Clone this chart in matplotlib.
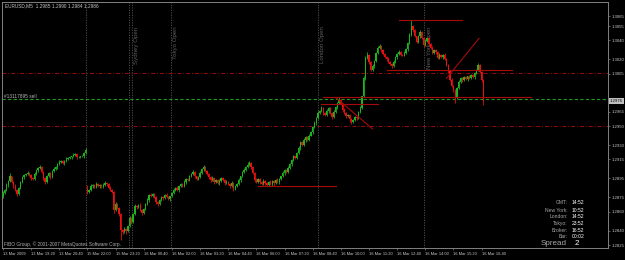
import matplotlib
matplotlib.use("Agg")
import matplotlib.pyplot as plt
import matplotlib.transforms as mtransforms

plt.rcParams['font.family'] = ['Liberation Sans', 'DejaVu Sans']

# EURUSD M5 candles, values in pips above 1.2800 (one entry per bar)
base = 1.2800
first_open = 76
gap_open = 85      # first Sunday bar (index 48) opens after the weekend gap
gap_bar = 48

closes = [
    80, 83, 88, 92, 97, 91, 87, 83, 79, 85,
    91, 96, 99, 100, 101, 99, 95, 94, 100, 104,
    106, 107, 102, 95, 91, 97, 101, 96, 103, 105,
    107, 110, 112, 113, 111, 113, 115, 116, 117, 118,
    120, 121, 117, 117, 118, 118, 122, 125,
    81, 83, 87, 88, 86, 89, 87, 88, 86, 88,
    90, 89, 85, 83, 81, 62, 68, 64, 58, 41,
    39, 42, 40, 45, 53, 49, 58, 66, 65, 67,
    62, 59, 63, 68, 72, 78, 76, 79, 75, 70,
    68, 72, 75, 74, 78, 75, 73, 76, 80, 83,
    85, 83, 87, 89, 87, 91, 94, 93, 97, 100,
    102, 97, 94, 96, 101, 105, 107, 103, 100, 96,
    93, 95, 91, 93, 90, 92, 95, 93, 90, 91,
    89, 87, 90, 84, 87, 89, 93, 97, 102, 104,
    107, 109, 111, 107, 101, 93, 91, 94, 91, 89,
    92, 90, 88, 91, 89, 92, 90, 93, 91, 94,
    97, 101, 104, 102, 106, 110, 114, 118, 116, 122,
    127, 133, 130, 135, 138, 135, 140, 144, 149, 153,
    158, 164, 166, 169, 164, 162, 166, 169, 164, 159,
    165, 170, 174, 177, 173, 167, 164, 160, 162, 157,
    154, 156, 159, 158, 165, 169, 181, 200, 221, 225,
    217, 209, 213, 218, 227, 232, 234, 230, 226, 222,
    220, 217, 215, 213, 217, 222, 226, 228, 225, 224,
    227, 231, 237, 246, 255, 251, 244, 238, 244, 249,
    242, 235, 239, 242, 236, 232, 227, 230, 228, 221,
    225, 222, 225, 220, 214, 208, 198, 192, 188, 180,
    190, 196, 200, 198, 201, 199, 202, 200, 204, 201,
    206, 209, 214, 207, 198, 176,
]

# how far the high / low reach beyond the body, in pips
wick_up = [
    2, 1, 2, 1, 4, 1, 1, 2, 1, 1,
    1, 2, 1, 1, 2, 1, 1, 1, 2, 1,
    1, 2, 1, 1, 1, 2, 1, 1, 1, 2,
    1, 1, 2, 1, 1, 1, 2, 1, 1, 1,
    2, 1, 1, 1, 1, 2, 1, 2,
    3, 1, 2, 1, 1, 2, 1, 1, 1, 2,
    2, 1, 1, 2, 1, 1, 2, 1, 1, 1,
    1, 2, 1, 1, 2, 1, 1, 2, 1, 1,
    2, 1, 1, 1, 2, 1, 2, 1, 1, 1,
    1, 1, 2, 1, 1, 2, 1, 1, 1, 2,
    1, 2, 1, 1, 1, 2, 1, 1, 2, 1,
    2, 1, 1, 1, 2, 1, 2, 1, 1, 1,
    1, 2, 1, 1, 1, 2, 1, 1, 1, 2,
    1, 1, 2, 1, 1, 1, 2, 1, 1, 2,
    1, 3, 2, 1, 1, 1, 2, 1, 1, 1,
    2, 1, 1, 1, 2, 1, 1, 1, 2, 1,
    1, 2, 1, 1, 2, 1, 1, 2, 1, 1,
    2, 1, 1, 2, 1, 1, 2, 1, 1, 2,
    1, 2, 1, 2, 1, 1, 2, 1, 1, 1,
    2, 1, 1, 3, 1, 1, 2, 1, 1, 1,
    1, 1, 2, 1, 1, 2, 1, 2, 2, 3,
    1, 1, 2, 1, 1, 2, 2, 1, 1, 1,
    1, 2, 1, 1, 2, 1, 1, 2, 1, 1,
    2, 1, 1, 2, 6, 1, 1, 1, 2, 2,
    1, 1, 2, 1, 1, 1, 2, 1, 1, 1,
    2, 1, 1, 2, 1, 1, 1, 2, 1, 1,
    1, 2, 1, 1, 2, 1, 1, 2, 1, 1,
    1, 1, 2, 1, 1, 1,
]
wick_dn = [
    2, 1, 1, 2, 1, 1, 2, 1, 2, 1,
    1, 1, 2, 1, 1, 1, 2, 1, 1, 1,
    2, 1, 1, 2, 2, 1, 1, 2, 1, 1,
    1, 2, 1, 1, 1, 2, 1, 1, 1, 2,
    1, 1, 2, 1, 1, 1, 2, 1,
    2, 1, 1, 2, 1, 1, 1, 2, 1, 1,
    1, 2, 1, 1, 1, 3, 1, 1, 2, 11,
    2, 1, 3, 1, 1, 2, 1, 1, 2, 1,
    1, 2, 1, 1, 1, 2, 1, 1, 1, 2,
    2, 1, 1, 2, 1, 1, 1, 2, 1, 1,
    1, 1, 2, 1, 1, 1, 2, 1, 1, 1,
    1, 2, 1, 1, 1, 1, 2, 1, 1, 2,
    2, 1, 2, 1, 1, 2, 1, 1, 2, 1,
    1, 2, 1, 2, 1, 1, 1, 2, 1, 1,
    1, 1, 1, 2, 1, 2, 1, 1, 2, 1,
    1, 2, 1, 1, 1, 2, 3, 1, 1, 2,
    1, 1, 2, 1, 1, 1, 2, 1, 1, 1,
    1, 2, 1, 1, 2, 1, 1, 1, 2, 1,
    2, 1, 1, 1, 2, 1, 1, 2, 1, 2,
    1, 1, 2, 1, 1, 2, 1, 2, 1, 3,
    2, 1, 1, 2, 1, 1, 1, 1, 2, 1,
    2, 1, 1, 2, 1, 1, 1, 2, 1, 1,
    2, 1, 1, 2, 1, 1, 2, 1, 1, 1,
    1, 1, 2, 1, 1, 2, 1, 1, 1, 2,
    1, 2, 1, 1, 2, 1, 1, 1, 2, 1,
    1, 1, 2, 1, 1, 2, 1, 1, 2, 6,
    2, 1, 1, 2, 1, 1, 2, 1, 1, 1,
    2, 1, 1, 1, 2, 4,
]

time_labels = ["13 Mar 2009", "13 Mar 19:20", "13 Mar 20:40", "15 Mar 22:00",
               "15 Mar 23:20", "16 Mar 00:40", "16 Mar 02:00", "16 Mar 03:20",
               "16 Mar 04:40", "16 Mar 06:00", "16 Mar 07:20", "16 Mar 08:40",
               "16 Mar 10:00", "16 Mar 11:20", "16 Mar 12:40", "16 Mar 14:00",
               "16 Mar 15:20", "16 Mar 16:40"]
bars_per_label = 16

price_ticks = [1.3065, 1.3055, 1.3040, 1.3020, 1.3005, 1.2965, 1.2950,
               1.2930, 1.2915, 1.2895, 1.2875, 1.2860, 1.2840, 1.2825]

header = "EURUSD,M5  1.2985 1.2990 1.2984 1.2986"

# session markers: (bar position, label)
day_separators = [47.5, 71.5]
sessions = [(73.5, "Sydney Open"), (95.5, "Tokyo Open"),
            (179.0, "London Open"), (239.5, "New York Open")]

# horizontal levels
dashdot_levels = [1.3006, 1.2950]
order_price = 1.2978
order_label = "#13117895 sell"

# hand drawn trend lines: (bar0, pips0, bar1, pips1)
trend_lines = [
    (225, 261, 261, 261),
    (218, 209, 289, 209),
    (252, 200, 270.5, 242),
    (182, 180, 300, 180),
    (181, 173, 213, 173),
    (189, 180, 210, 147),
    (145, 87, 189, 87),
]

info_names = ["GMT:", "New York:", "London:", "Tokyo:", "Broker:", "Bar:"]
info_times = ["14:52", "10:52", "14:52", "23:52", "16:52", "00:02"]
spread = "2"

# ---------------------------------------------------------------
W, H = 625, 260
fig = plt.figure(figsize=(W / 100, H / 100), dpi=100, facecolor="black")
ax = fig.add_axes([2 / W, 12 / H, 606 / W, 246 / H], facecolor="black")

opens = [first_open] + closes[:-1]
opens[gap_bar] = gap_open

bull, bear = "#1fb41f", "#e81010"
for i, (o, c) in enumerate(zip(opens, closes)):
    col = bull if c >= o else bear
    hi = max(o, c) + wick_up[i]
    lo = min(o, c) - wick_dn[i]
    ax.vlines(i, base + lo / 1e4, base + hi / 1e4, color=col, lw=0.6, zorder=3)
    body = max(abs(c - o), 0.4) / 1e4
    ax.bar(i, body, bottom=base + min(o, c) / 1e4, width=0.75,
           color=col, linewidth=0, zorder=4)

# vertical markers
for xs in day_separators:
    ax.axvline(xs, color="#555555", lw=0.6, ls=(0, (1.5, 1.5)), zorder=1)
for xs, name in sessions:
    ax.axvline(xs, color="#555555", lw=0.6, ls=(0, (1.5, 1.5)), zorder=1)
    ax.text(xs + 1.2, 0.9, name, transform=ax.get_xaxis_transform(),
            rotation=90, ha="left", va="top", fontsize=4.4,
            color="#5e5e5e", zorder=1)

for lvl in dashdot_levels:
    ax.axhline(lvl, color="#9a0c0c", lw=0.7, ls=(0, (4, 2, 1, 2)), zorder=2)

ax.axhline(order_price, color="#1f9a1f", lw=0.8, ls=(0, (3, 2)), zorder=2)
ax.text(0.5, order_price + 0.00008, order_label, fontsize=3.4,
        color="#b8b8b8", ha="left", va="bottom", zorder=5)

for b0, p0, b1, p1 in trend_lines:
    ax.plot([b0, b1], [base + p0 / 1e4, base + p1 / 1e4],
            color="#a80a0a", lw=0.8, zorder=5)

# axes limits: 1.76 px per bar, ~1.05 pips per px
ax.set_xlim(-0.51, 343.8)
ax.set_ylim(1.28219, 1.30802)

for sp in ax.spines.values():
    sp.set_color("#808080")
    sp.set_linewidth(0.7)

ax.yaxis.tick_right()
ax.set_yticks(price_ticks)
ax.set_yticklabels([f"{p:.4f}" for p in price_ticks])
ax.tick_params(axis="y", colors="#808080", labelcolor="#c8c8c8",
               labelsize=3.1, length=1.5, width=0.5, pad=1.0)

tick_pos = [k * bars_per_label for k in range(len(time_labels))]
ax.set_xticks(tick_pos)
ax.set_xticklabels(time_labels)
ax.tick_params(axis="x", colors="#808080", labelcolor="#c8c8c8",
               labelsize=2.9, length=1.5, width=0.5, pad=1.5)
for lab in ax.get_xticklabels():
    lab.set_horizontalalignment("left")

# current bid box on the price scale
last = base + closes[-1] / 1e4
trans = mtransforms.blended_transform_factory(ax.transAxes, ax.transData)
ax.text(1.003, last, f"{last:.4f}", transform=trans, fontsize=3.1,
        color="black", va="center", ha="left", zorder=6,
        bbox=dict(boxstyle="square,pad=0.2", fc="#c0c0c0", ec="none"),
        clip_on=False)

# header, footer and info panel
fig.text(5 / W, 1 - 6 / H, header, fontsize=3.4, color="#c8c8c8", va="center")
fig.text(4 / W, 1 - 244 / H, "FIBO Group, \u00a9 2001-2007 MetaQuotes Software Corp.",
         fontsize=3.4, color="#b0b0b0", va="center")

rows_y = [203, 210, 217, 223.5, 230, 237]
for name, tm, yy in zip(info_names, info_times, rows_y):
    fig.text(568 / W, 1 - yy / H, name, fontsize=3.6, color="#a8a8a8",
             ha="right", va="center")
    fig.text(572 / W, 1 - yy / H, tm, fontsize=3.6, color="white",
             ha="left", va="center")
fig.text(567 / W, 1 - 243.5 / H, "Spread", fontsize=5.8, color="#a8a8a8",
         ha="right", va="center")
fig.text(575 / W, 1 - 243.5 / H, spread, fontsize=5.8, color="white",
         ha="left", va="center")

fig.savefig("out.png", dpi=100, facecolor="black")
